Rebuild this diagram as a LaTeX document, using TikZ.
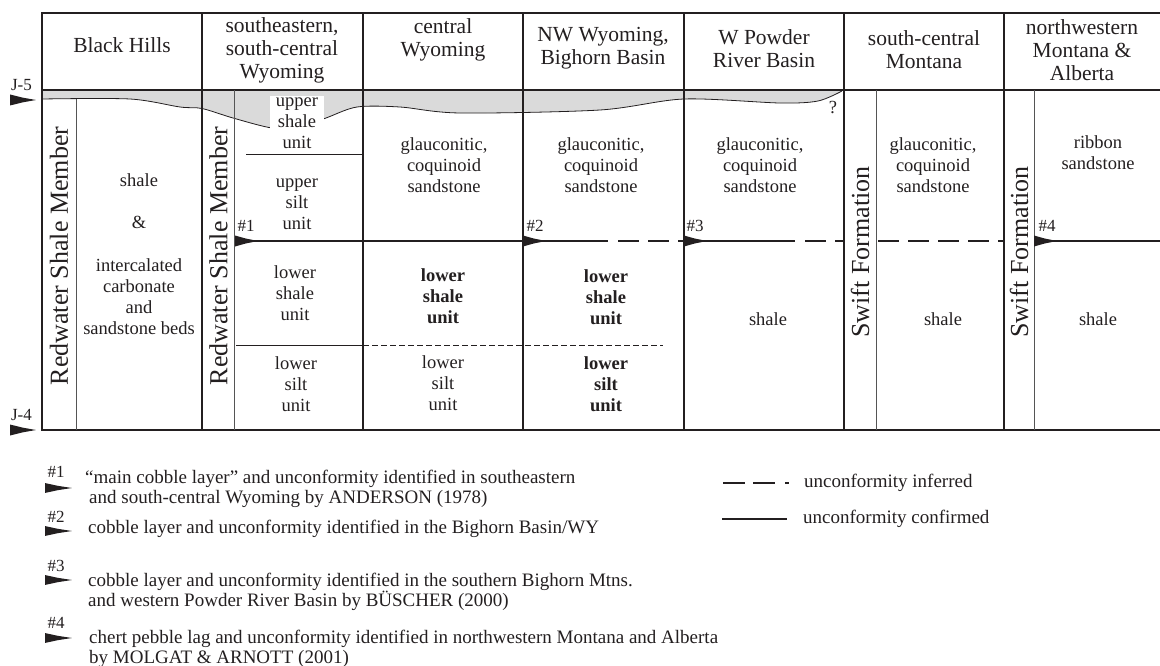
\documentclass[tikz,border=0pt]{standalone}
\usepackage{fontspec}
\setmainfont{Liberation Serif}
\definecolor{ink}{HTML}{231F20}
\definecolor{capgray}{HTML}{DADADA}
\definecolor{rulegray}{HTML}{555555}

\begin{document}
\begin{tikzpicture}[x=1pt, y=-1pt,
  headtext/.style={font=\fontsize{21.5}{23}\selectfont, align=center, text=ink},
  celltext/.style={font=\fontsize{18.5}{21}\selectfont, align=center, text=ink},
  celltextbf/.style={font=\fontsize{18.5}{21}\selectfont\bfseries, align=center, text=ink},
  membertext/.style={rotate=90, font=\fontsize{26}{28}\selectfont, text=ink},
  hashtext/.style={font=\fontsize{17}{18}\selectfont, text=ink, inner sep=0pt},
  notetext/.style={font=\fontsize{19}{20}\selectfont, align=left, text=ink, anchor=west, inner sep=0pt},
  boxline/.style={ink, line width=2pt},
  divider/.style={ink, line width=1.2pt},
  subline/.style={rulegray, line width=1pt},
  contact/.style={ink, line width=0.8pt},
  unconf/.style={ink, line width=2pt},
  inferred/.style={unconf, dash pattern=on 21pt off 9pt},
  cobble/.pic={\fill[ink] (0,-5.5) -- (11,-2.4) -- (23,0) -- (11,2.4) -- (0,5.5) -- cycle;},
]
  \useasboundingbox (0,0) rectangle (1160,666);

  % J-5 cap
  \fill[capgray] (42,91) -- plot[smooth, tension=0.5] coordinates {(42,99) (130,99) (180,107) (202,108.5) (233,118) (272,128) (300,127) (326,118) (357,107) (400,107) (460,113) (600,110) (684,99) (780,103) (818,101) (842,91)} -- cycle;
  \draw[contact] plot[smooth, tension=0.5] coordinates {(42,99) (130,99) (180,107) (202,108.5) (233,118) (272,128) (300,127) (326,118) (357,107) (400,107) (460,113) (600,110) (684,99) (780,103) (818,101) (842,91)};

  % Frame
  \draw[boxline] (1160,13) -- (42,13) -- (42,430) -- (1160,430);
  \draw[boxline] (42,90.5) -- (1160,90.5);
  \draw[divider] (202,13) -- (202,430);
  \draw[divider] (363,13) -- (363,430);
  \draw[divider] (523,13) -- (523,430);
  \draw[divider] (684,13) -- (684,430);
  \draw[divider] (844,13) -- (844,430);
  \draw[divider] (1004,13) -- (1004,430);
  \draw[subline] (76,99) -- (76,430);
  \draw[subline] (234.5,90.5) -- (234.5,430);
  \draw[subline] (876,90.5) -- (876,430);
  \draw[subline] (1034,90.5) -- (1034,430);

  % Unit contacts
  \draw[contact] (246,154) -- (363,154);
  \draw[contact] (236,345) -- (363,345);
  \draw[contact, dash pattern=on 6pt off 3pt] (363,345) -- (663,345);

  % Unconformity
  \coordinate (m1) at (235,241);
  \coordinate (m2) at (523,241);
  \coordinate (m3) at (684,241);
  \coordinate (m4) at (1034,241);
  \coordinate (s2) at (608,241);
  \coordinate (d2) at (618,241);
  \coordinate (s3) at (795,241);
  \coordinate (d3) at (805,241);
  \coordinate (w1) at (844,241);
  \coordinate (w2) at (878,241);
  \coordinate (w3) at (1004,241);
  \coordinate (rim) at (1160,241);
  \draw[unconf] (m1) -- (s2);
  \draw[inferred] (d2) -- (m3);
  \draw[unconf] (m3) -- (s3);
  \draw[inferred] (d3) -- (w1);
  \draw[inferred] (w2) -- (w3);
  \draw[unconf] (m4) -- (rim);
  \pic at (m1) {cobble};
  \pic at (m2) {cobble};
  \pic at (m3) {cobble};
  \pic at (m4) {cobble};
  \node[hashtext] (h1) at (246,226) {\#1};
  \node[hashtext] (h2) at (535,226) {\#2};
  \node[hashtext] (h3) at (695,226) {\#3};
  \node[hashtext] (h4) at (1047,226) {\#4};

  % Horizons
  \node[hashtext] (j5) at (21.5,85) {J-5};
  \node[hashtext] (j4) at (21.5,415) {J-4};
  \pic[xscale=1.13] at (10,100) {cobble};
  \pic[xscale=1.13] at (10,430) {cobble};

  % Headings
  \node[headtext] (hills) at (122,45) {Black Hills};
  \node[headtext] (sewy) at (282,50) {southeastern,\\south-central\\Wyoming};
  \node[headtext] (cwy) at (443,40) {central\\Wyoming};
  \node[headtext] (nwwy) at (603,48.5) {NW Wyoming,\\Bighorn Basin};
  \node[headtext] (wpr) at (764,48.5) {W Powder\\River Basin};
  \node[headtext] (scmt) at (924,50) {south-central\\Montana};
  \node[headtext] (nwmt) at (1082,50) {northwestern\\Montana \&\\Alberta};

  % Members
  \node[membertext] (rw1) at (59,256) {Redwater Shale Member};
  \node[membertext] (rw2) at (218.5,256) {Redwater Shale Member};
  \node[membertext] (sw1) at (860,252) {Swift Formation};
  \node[membertext] (sw2) at (1019,252) {Swift Formation};

  % Units
  \node[celltext] (bhsh) at (139,180) {shale};
  \node[celltext] (bhamp) at (139,222) {\&};
  \node[celltext] (bhbeds) at (139,297) {intercalated\\carbonate\\and\\sandstone beds};
  \node[celltext, fill=white, inner xsep=6pt, inner ysep=2pt] (usu) at (297,123) {upper\\shale\\unit};
  \node[celltext] (usilt) at (297,204) {upper\\silt\\unit};
  \node[celltext] (lsu1) at (295,293) {lower\\shale\\unit};
  \node[celltext] (lsilt1) at (296,384) {lower\\silt\\unit};
  \node[celltext] (gc1) at (444,165) {glauconitic,\\coquinoid\\sandstone};
  \node[celltextbf] (lsu2) at (443,296) {lower\\shale\\unit};
  \node[celltext] (lsilt2) at (443,383) {lower\\silt\\unit};
  \node[celltext] (gc2) at (601,165) {glauconitic,\\coquinoid\\sandstone};
  \node[celltextbf] (lsu3) at (606,297) {lower\\shale\\unit};
  \node[celltextbf] (lsilt3) at (606,384) {lower\\silt\\unit};
  \node[celltext] (gc3) at (760,165) {glauconitic,\\coquinoid\\sandstone};
  \node[celltext] (qm) at (833,108) {?};
  \node[celltext] (sh3) at (768,319) {shale};
  \node[celltext] (gc4) at (933,165) {glauconitic,\\coquinoid\\sandstone};
  \node[celltext] (sh4) at (943,319) {shale};
  \node[celltext] (rib) at (1098,152.5) {ribbon\\sandstone};
  \node[celltext] (sh5) at (1098,319) {shale};

  % Legend
  \node[hashtext] (k1) at (56,472) {\#1};
  \node[hashtext] (k2) at (56,517) {\#2};
  \node[hashtext] (k3) at (56,566) {\#3};
  \node[hashtext] (k4) at (56,623) {\#4};
  \pic[xscale=1.17, yscale=0.9] at (45,488) {cobble};
  \pic[xscale=1.17, yscale=0.9] at (45,531) {cobble};
  \pic[xscale=1.17, yscale=0.9] at (45,580) {cobble};
  \pic[xscale=1.17, yscale=0.9] at (45,638) {cobble};
  \node[notetext] (n1) at (85,489) {“main cobble layer” and unconformity identified in southeastern\\\hspace*{4pt}and south-central Wyoming by ANDERSON (1978)};
  \node[notetext] (n2) at (88,529) {cobble layer and unconformity identified in the Bighorn Basin/WY};
  \node[notetext] (n3) at (88,592) {cobble layer and unconformity identified in the southern Bighorn Mtns.\\and western Powder River Basin by BÜSCHER (2000)};
  \node[notetext] (n4) at (89,648.5) {chert pebble lag and unconformity identified in northwestern Montana and Alberta\\by MOLGAT \& ARNOTT (2001)};

  \coordinate (di) at (723,483);
  \coordinate (de) at (789,483);
  \coordinate (ci) at (722,519);
  \coordinate (ce) at (787,519);
  \draw[unconf, line width=1.6pt, dash pattern=on 22pt off 8pt on 22pt off 10pt on 4pt off 30pt] (di) -- (de);
  \draw[unconf, line width=1.6pt] (ci) -- (ce);
  \node[notetext] (inf) at (804,483) {unconformity inferred};
  \node[notetext] (conf) at (803,519) {unconformity confirmed};
\end{tikzpicture}
\end{document}
